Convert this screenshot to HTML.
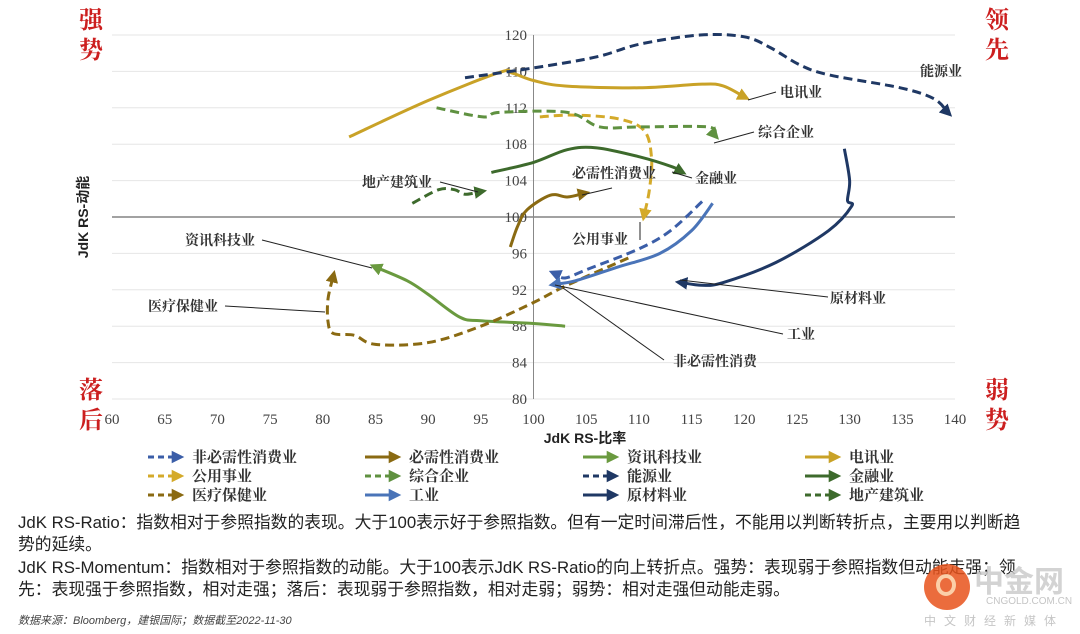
<!DOCTYPE html>
<html><head><meta charset="utf-8"><style>
body{margin:0;background:#fff;width:1080px;height:634px;overflow:hidden;font-family:"Liberation Serif","Noto Serif CJK SC",serif;}
svg{position:absolute;left:0;top:0}
.note{position:absolute;left:18px;font-family:"Liberation Sans","Noto Sans CJK SC",sans-serif;font-size:16.8px;color:#222;line-height:22px;width:1060px;white-space:nowrap}
</style></head><body>
<svg id="chart" width="1080" height="634"></svg>
<div class="note" style="top:512px">JdK RS-Ratio：指数相对于参照指数的表现。大于100表示好于参照指数。但有一定时间滞后性，不能用以判断转折点，主要用以判断趋<br>势的延续。</div>
<div class="note" style="top:557px">JdK RS-Momentum：指数相对于参照指数的动能。大于100表示JdK RS-Ratio的向上转折点。强势：表现弱于参照指数但动能走强；领<br>先：表现强于参照指数，相对走强；落后：表现弱于参照指数，相对走弱；弱势：相对走强但动能走弱。</div>
<div style="position:absolute;left:18px;top:612px;font-size:11px;font-style:italic;color:#444;font-family:'Liberation Sans','Noto Sans CJK SC',sans-serif">数据来源：Bloomberg，建银国际；数据截至2022-11-30</div>
<div style="position:absolute;left:922px;top:562px;width:155px;height:70px;opacity:0.85;white-space:nowrap">
<div style="position:absolute;left:2px;top:2px;width:46px;height:46px;border-radius:50%;background:#e8531c"></div>
<div style="position:absolute;left:14px;top:12px;width:20px;height:22px;border-radius:50%;border:4px solid #fbc79a;box-sizing:border-box"></div>
<div style="position:absolute;left:52px;top:0;font-size:30px;font-weight:bold;color:#ccc;font-family:'Noto Sans CJK SC',sans-serif;line-height:34px">中金网</div>
<div style="position:absolute;left:64px;top:34px;font-size:10px;color:#bbb;font-family:'Liberation Sans',sans-serif">CNGOLD.COM.CN</div>
<div style="position:absolute;left:2px;top:50px;font-size:12px;color:#bbb;letter-spacing:8px;font-family:'Noto Sans CJK SC',sans-serif">中文财经新媒体</div>
</div>
<script>
const xTicks=[60,65,70,75,80,85,90,95,100,105,110,115,120,125,130,135,140];
const yTicks=[80,84,88,92,96,100,104,108,112,116,120];
const yTickLabels=["80","84","88","92","96","100","104","108","112","110","120"];
const names=["非必需性消费业","必需性消费业","资讯科技业","电讯业","公用事业","综合企业","能源业","金融业","医疗保健业","工业","原材料业","地产建筑业"];
const colors=["#3b5ea8","#8a6a12","#6a9a3f","#c9a227","#d4aa2a","#5f9140","#1f3864","#3d6a2c","#8a6a12","#4a74b8","#1f3864","#3d6a2c"];
const dashed=[true,false,false,false,true,true,true,false,true,false,false,true];
const s0x=[116,113,110,105,103,102], s0y=[101.7,98.5,96.5,94.2,93.3,93.8];
const s1x=[97.8,98.5,99.4,101.6,103.2,104.8], s1y=[96.7,99,100.8,102.4,102.2,102.6];
const s2x=[103,100,95,93,90,88,85], s2y=[88,88.3,88.6,89,91.5,93,94.5];
const s3x=[82.5,90,96.8,98,100,103,110,116,118,120], s3y=[108.8,112.8,115.9,115.8,115,114.4,114.2,114.6,114.4,113.2];
const s4x=[100.6,103.7,108,110.5,111.2,111,110.5], s4y=[111,111.2,110.8,109.5,106.5,103,100.2];
const s5x=[90.8,95.2,96.8,103.2,106.3,110.1,116.5,117.2], s5y=[112,111,111.5,111.5,109.9,109.9,109.9,109];
const s6x=[93.5,100.1,106,110.1,115.8,120,122.5,125.3,128.1,134.8,138,139.3], s6y=[115.3,116.4,117.6,119,120,119.8,118.6,116.7,115.6,114.2,113,111.5];
const s7x=[96,100,103.2,106,110.1,113.2,114], s7y=[104.9,106,107.4,107.6,106.6,105.5,105];
const s8x=[109,103,100,95,90,85,83,81,80.5,80.5,81], s8y=[95.5,92.4,90.6,88,86.2,86,87,87.2,88.5,91,93.5];
const s9x=[117,115,112,108,104,102], s9y=[101.5,98.5,96,94.5,93,92.6];
const s10x=[129.5,130,129.8,130.2,128,123,118,116,114], s10y=[107.5,104,101.8,101.2,98.5,95,92.8,92.5,92.8];
const s11x=[88.5,91,92.5,93.5,95], s11y=[101.5,103,103,102.5,102.8];
const SX=[s0x,s1x,s2x,s3x,s4x,s5x,s6x,s7x,s8x,s9x,s10x,s11x], SY=[s0y,s1y,s2y,s3y,s4y,s5y,s6y,s7y,s8y,s9y,s10y,s11y];
const X0=112,X1=955,Y0=399,Y1=35;
const xs=v=>X0+(v-60)/80*(X1-X0), ys=v=>Y0-(v-80)/40*(Y0-Y1);
const svg=document.getElementById('chart'),NS="http://www.w3.org/2000/svg";
function mk(t,a,p){const e=document.createElementNS(NS,t);for(const k in a)e.setAttribute(k,a[k]);(p||svg).appendChild(e);return e;}
const defs=mk('defs',{});
colors.forEach((c,i)=>{const m=mk('marker',{id:'m'+i,viewBox:'0 0 10 10',refX:5,refY:5,markerWidth:4.2,markerHeight:4.2,orient:'auto',markerUnits:'strokeWidth'},defs);mk('path',{d:'M0,0L10,5L0,10z',fill:c},m);});
yTicks.forEach((v,i)=>{const g=mk('line',{x1:X0,x2:X1,y1:ys(v),y2:ys(v),stroke:v===100?'#444':'#e6e6e6','stroke-width':1});

const t=mk('text',{x:527,y:ys(v)+5,'text-anchor':'end','font-size':15,fill:'#444'});t.textContent=yTickLabels[i];
});
const ax=mk('line',{x1:xs(100),x2:xs(100),y1:Y1,y2:Y0,stroke:'#888','stroke-width':1});

xTicks.forEach(v=>{const t=mk('text',{x:xs(v),y:424,'text-anchor':'middle','font-size':15,fill:'#444'});t.textContent=v;
});
function path(px,py){let d='M'+px[0]+','+py[0];for(let i=0;i<px.length-1;i++){const p0=i?i-1:i,p3=i+2<px.length?i+2:i+1;
const c1x=px[i]+(px[i+1]-px[p0])/6,c1y=py[i]+(py[i+1]-py[p0])/6,c2x=px[i+1]-(px[p3]-px[i])/6,c2y=py[i+1]-(py[p3]-py[i])/6;
d+=` C${c1x},${c1y} ${c2x},${c2y} ${px[i+1]},${py[i+1]}`;}return d;}
SX.forEach((sx,i)=>{const p=mk('path',{d:path(sx.map(xs),SY[i].map(ys)),fill:'none',stroke:colors[i],'stroke-width':3,'stroke-dasharray':dashed[i]?'9,5':'none','marker-end':'url(#m'+i+')'});
});
const labels=[["能源业",920,76,null],["电讯业",780,97,[748,100,776,92]],["综合企业",758,137,[714,143,754,132]],["金融业",695,183,[672,172,692,178]],["必需性消费业",572,178,[582,195,612,188]],["公用事业",572,244,[640,222,640,240]],["地产建筑业",362,187,[440,182,478,192]],["资讯科技业",185,245,[262,240,372,268]],["医疗保健业",148,311,[225,306,325,312]],["原材料业",830,303,[680,280,828,297]],["工业",787,339,[555,285,783,334]],["非必需性消费",673,366,[563,288,664,360]]];
labels.forEach(l=>{const t=mk('text',{x:l[1],y:l[2],'font-size':14,'font-weight':'bold',fill:'#333'});t.textContent=l[0];

if(l[3]){const a=l[3];mk('line',{x1:a[0],y1:a[1],x2:a[2],y2:a[3],stroke:'#222','stroke-width':1});}});
[["强",91,28],["势",91,58],["领",997,28],["先",997,58],["落",91,398],["后",91,428],["弱",997,398],["势",997,428]].forEach(c=>{const t=mk('text',{x:c[1],y:c[2],'font-size':24,'font-weight':'bold',fill:'#cc1f1f','text-anchor':'middle'});t.textContent=c[0];
});
const xt=mk('text',{x:585,y:443,'text-anchor':'middle','font-size':14,'font-weight':'bold',fill:'#222','font-family':'Liberation Sans,Noto Sans CJK SC,sans-serif'});xt.textContent='JdK RS-比率';

const yt=mk('text',{x:88,y:217,'text-anchor':'middle','font-size':14,'font-weight':'bold',fill:'#222',transform:'rotate(-90 88 217)','font-family':'Liberation Sans,Noto Sans CJK SC,sans-serif'});yt.textContent='JdK RS-动能';

const colX=[148,365,583,805],rowY=[457,476,495];
names.forEach((n,i)=>{const cx=colX[i%4],cy=rowY[Math.floor(i/4)];
const l=mk('line',{x1:cx,x2:cx+30,y1:cy,y2:cy,stroke:colors[i],'stroke-width':3,'stroke-dasharray':dashed[i]?'6,4':'none','marker-end':'url(#m'+i+')'});

const t=mk('text',{x:cx+44,y:cy+5,'font-size':15,'font-weight':'bold',fill:'#333'});t.textContent=n;
});
</script>
</body></html>
